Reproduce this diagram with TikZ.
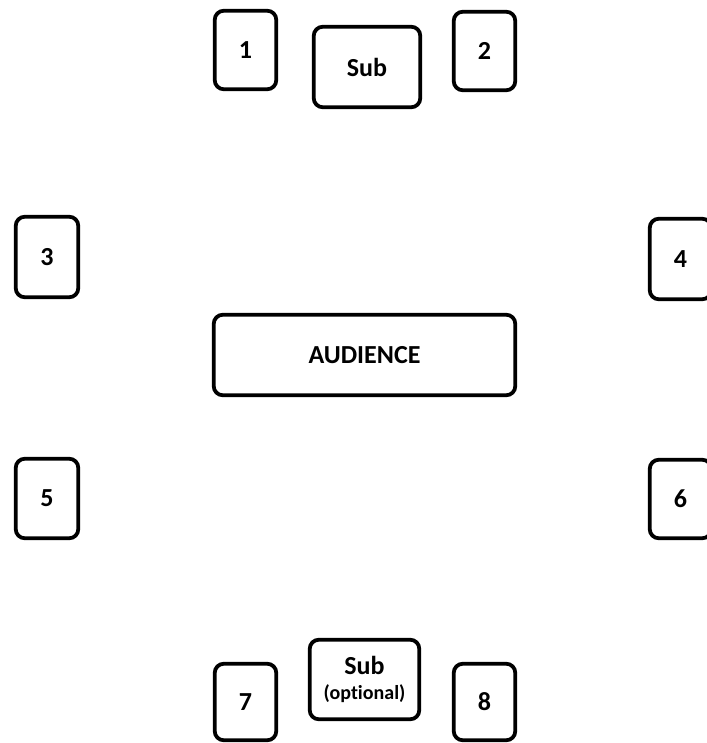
\documentclass[tikz,border=0pt]{standalone}
\usepackage{fontspec}
\setmainfont{Carlito}[Ligatures=CommonOff]
\begin{document}
\begin{tikzpicture}[x=1pt,y=-1pt,
  seat/.style={draw=black,line width=3.8pt,rounded corners=9pt,fill=white,
    inner sep=0pt,font=\bfseries\fontsize{26}{30}\selectfont,align=center},
  small/.style={seat,minimum width=61.5pt,minimum height=78.5pt},
]
\useasboundingbox (0,0) rectangle (706,743);
\node[small] (s1) at (245.5,50) {1};
\node[small] (s2) at (484.5,51) {2};
\node[seat,minimum width=106.5pt,minimum height=80.5pt] (subtop) at (367,67) {Sub};
\node[small,minimum width=62.5pt,minimum height=80.5pt] (s3) at (47,257) {3};
\node[small,minimum height=80.5pt] (s4) at (680.5,259) {4};
\node[seat,minimum width=301.5pt,minimum height=80.5pt] (aud) at (364.5,355) {AUDIENCE};
\node[small,minimum width=62.5pt,minimum height=79.5pt] (s5) at (47,498.5) {5};
\node[small,minimum height=78.5pt] (s6) at (680.5,499) {6};
\node[seat,minimum width=109.5pt,minimum height=79.5pt] (subbot) at (364.5,679.5)
  {Sub\\[-5pt]{\fontsize{20}{23}\selectfont (optional)}};
\node[small,minimum height=76.5pt] (s7) at (245.5,702) {7};
\node[small,minimum height=76.5pt] (s8) at (484.5,702) {8};
\end{tikzpicture}
\end{document}
